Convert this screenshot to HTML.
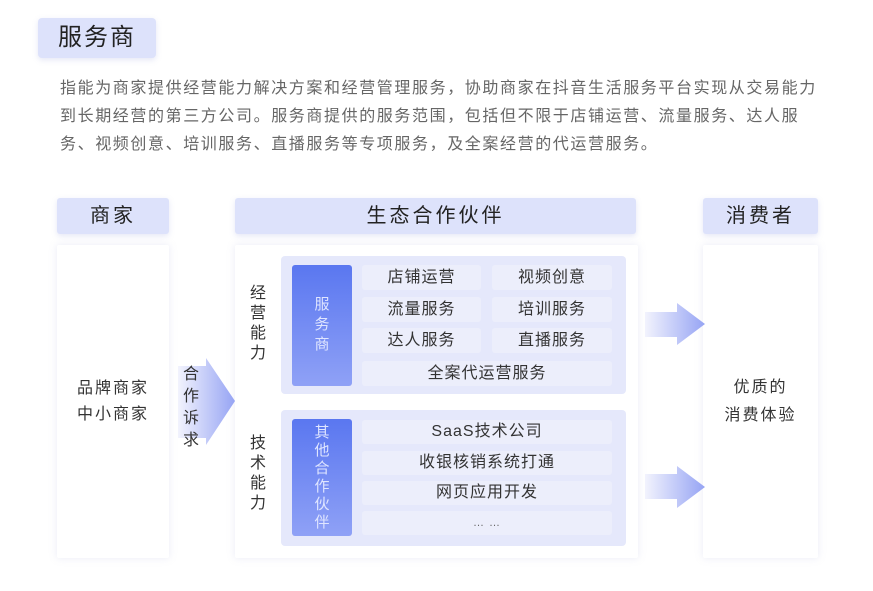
<!DOCTYPE html>
<html><head><meta charset="utf-8"><style>
*{margin:0;padding:0;box-sizing:border-box}
body{width:873px;height:591px;background:#fff;font-family:"Liberation Sans","Noto Sans CJK SC",sans-serif;position:relative;overflow:hidden;color:#333}
.a{position:absolute}
.hd{background:#dde2fb;border-radius:3px;box-shadow:0 2px 6px rgba(150,160,220,.25);text-align:center;color:#222;font-size:20px;letter-spacing:3px}
.pn{background:#fff;box-shadow:0 0 8px rgba(170,175,220,.25);border-radius:2px}
.in{background:#e5e8fb;border-radius:4px}
.bl{background:linear-gradient(#5a77f0,#8fa1f6);border-radius:3px;color:#dfe5ff;font-size:15px;text-align:center;line-height:20px}
.c{background:#eceefb;border-radius:3px;text-align:center;font-size:16px;color:#333;line-height:25px;letter-spacing:1px}
.v{font-size:16px;line-height:22px;color:#333;text-align:center;width:20px}
p{font-size:16px;color:#666;line-height:28px;letter-spacing:1.6px;white-space:nowrap}
</style></head><body>
<div class="a hd" style="left:38px;top:18px;width:118px;height:40px;line-height:40px;font-size:24px;letter-spacing:2px;border-radius:4px">服务商</div>
<div class="a" style="left:60px;top:75px;width:800px"><p>指能为商家提供经营能力解决方案和经营管理服务，协助商家在抖音生活服务平台实现从交易能力<br>到长期经营的第三方公司。服务商提供的服务范围，包括但不限于店铺运营、流量服务、达人服<br>务、视频创意、培训服务、直播服务等专项服务，及全案经营的代运营服务。</p></div>

<div class="a hd" style="left:57px;top:198px;width:112px;height:36px;line-height:36px">商家</div>
<div class="a hd" style="left:235px;top:198px;width:401px;height:36px;line-height:36px">生态合作伙伴</div>
<div class="a hd" style="left:703px;top:198px;width:115px;height:36px;line-height:36px">消费者</div>

<div class="a pn" style="left:57px;top:245px;width:112px;height:313px"></div>
<div class="a pn" style="left:235px;top:245px;width:403px;height:313px"></div>
<div class="a pn" style="left:703px;top:245px;width:115px;height:313px"></div>

<div class="a" style="left:57px;top:376px;width:112px;text-align:center;font-size:16px;line-height:26px;letter-spacing:2px">品牌商家<br>中小商家</div>
<div class="a" style="left:703px;top:374px;width:115px;text-align:center;font-size:16px;line-height:28px;letter-spacing:2px">优质的<br>消费体验</div>

<svg class="a" style="left:0;top:0" width="873" height="591">
<defs><linearGradient id="g" x1="0" x2="1"><stop offset="0" stop-color="#f2f3fd"/><stop offset="1" stop-color="#96a4f4"/></linearGradient></defs>
<polygon points="178,366 206,366 206,358 235,401 206,445 206,438 178,438" fill="url(#g)"/>
<polygon points="645,312 677,312 677,303 705,324 677,345 677,337 645,337" fill="url(#g)"/>
<polygon points="645,474 677,474 677,466 705,487 677,508 677,499 645,499" fill="url(#g)"/>
</svg>
<div class="a v" style="left:181px;top:364px">合作诉求</div>
<div class="a v" style="left:248px;top:284px;line-height:20px">经营能力</div>
<div class="a v" style="left:248px;top:434px;line-height:20px">技术能力</div>

<div class="a in" style="left:281px;top:256px;width:345px;height:138px"></div>
<div class="a in" style="left:281px;top:410px;width:345px;height:136px"></div>
<div class="a bl" style="left:292px;top:265px;width:60px;height:121px;padding-top:30px">服<br>务<br>商</div>
<div class="a bl" style="left:292px;top:419px;width:60px;height:117px;padding-top:5px;line-height:18px">其<br>他<br>合<br>作<br>伙<br>伴</div>

<div class="a c" style="left:362px;top:265px;width:119px;height:25px">店铺运营</div>
<div class="a c" style="left:492px;top:265px;width:120px;height:25px">视频创意</div>
<div class="a c" style="left:362px;top:297px;width:119px;height:25px">流量服务</div>
<div class="a c" style="left:492px;top:297px;width:120px;height:25px">培训服务</div>
<div class="a c" style="left:362px;top:328px;width:119px;height:25px">达人服务</div>
<div class="a c" style="left:492px;top:328px;width:120px;height:25px">直播服务</div>
<div class="a c" style="left:362px;top:361px;width:250px;height:25px">全案代运营服务</div>
<div class="a c" style="left:362px;top:420px;width:250px;height:24px;line-height:24px">SaaS技术公司</div>
<div class="a c" style="left:362px;top:451px;width:250px;height:24px;line-height:24px">收银核销系统打通</div>
<div class="a c" style="left:362px;top:481px;width:250px;height:24px;line-height:24px">网页应用开发</div>
<div class="a c" style="left:362px;top:511px;width:250px;height:24px;line-height:24px;font-size:11px;color:#666">… …</div>
</body></html>
